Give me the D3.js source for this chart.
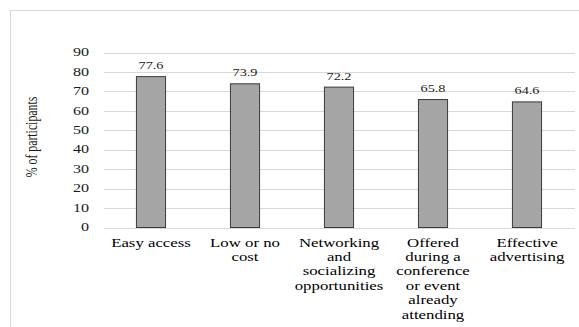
<!DOCTYPE html>
<html>
<head>
<meta charset="utf-8">
<script src="https://cdn.jsdelivr.net/npm/d3@7"></script>
<style>
  html, body { margin: 0; padding: 0; background: #fff; }
  svg { display: block; }
</style>
</head>
<body>
<svg id="chart" width="579" height="327"></svg>
<script>
// ---- data ----
const categories = [
  "Easy access",
  "Low or no\ncost",
  "Networking\nand\nsocializing\nopportunities",
  "Offered\nduring a\nconference\nor event\nalready\nattending",
  "Effective\nadvertising"
];
const values = [77.6, 73.9, 72.2, 65.8, 64.6];
const yTicks = [0, 10, 20, 30, 40, 50, 60, 70, 80, 90];
const yTitle = "% of participants";

// ---- layout ----
const plot = { left: 104, right: 574, top: 52.5, bottom: 227.5 };
const SX = 1.4; // horizontal stretch of text, as in the reference
const FONT = "Liberation Serif";

const svg = d3.select("#chart").style("font-family", FONT);

// outer border
svg.append("rect")
  .attr("x", 10.5).attr("y", 10.5)
  .attr("width", 620).attr("height", 400)
  .attr("fill", "none").attr("stroke", "#d9d9d9").attr("stroke-width", 1);

const x = d3.scaleBand()
  .domain(categories)
  .range([plot.left, plot.right])
  .paddingInner(0.69)
  .paddingOuter(0.345);

const y = d3.scaleLinear()
  .domain([0, 90])
  .range([plot.bottom, plot.top]);

// gridlines
svg.append("g").selectAll("line")
  .data(yTicks)
  .join("line")
  .attr("x1", plot.left).attr("x2", plot.right + 1)
  .attr("y1", d => Math.round(y(d)) + 0.5)
  .attr("y2", d => Math.round(y(d)) + 0.5)
  .attr("stroke", "#d9d9d9").attr("stroke-width", 1);

// y tick labels
svg.append("g").selectAll("text")
  .data(yTicks)
  .join("text")
  .style("font-family", FONT)
  .attr("transform", d => `translate(89,${y(d)}) scale(${SX},1)`)
  .attr("text-anchor", "end")
  .attr("dominant-baseline", "central")
  .attr("font-size", 11.5)
  .attr("fill", "#1a1a1a")
  .text(d => d);

// y axis title
svg.append("text")
  .style("font-family", FONT)
  .attr("transform", `translate(31,137) scale(${SX},1) rotate(-90)`)
  .attr("text-anchor", "middle")
  .attr("dominant-baseline", "central")
  .attr("font-size", 11.8)
  .attr("fill", "#1a1a1a")
  .text(yTitle);

// bars
svg.append("g").selectAll("rect")
  .data(values)
  .join("rect")
  .attr("x", (d, i) => x(categories[i]))
  .attr("y", d => y(d))
  .attr("width", x.bandwidth())
  .attr("height", d => y(0) - y(d))
  .attr("fill", "#a5a5a5")
  .attr("stroke", "#3a3a3a")
  .attr("stroke-width", 1);

// value labels
svg.append("g").selectAll("text")
  .data(values)
  .join("text")
  .style("font-family", FONT)
  .attr("transform", (d, i) => `translate(${x(categories[i]) + x.bandwidth() / 2},${y(d) - 7.5}) scale(1.3,1)`)
  .attr("text-anchor", "middle")
  .attr("font-size", 11)
  .attr("fill", "#1a1a1a")
  .text(d => d.toFixed(1));

// category labels
const catG = svg.append("g").selectAll("text")
  .data(categories)
  .join("text")
  .style("font-family", FONT)
  .attr("transform", d => `translate(${x(d) + x.bandwidth() / 2},246.5) scale(${SX},1)`)
  .attr("text-anchor", "middle")
  .attr("font-size", 12)
  .attr("fill", "#000");
catG.each(function(d) {
  const lines = d.split("\n");
  d3.select(this).selectAll("tspan")
    .data(lines)
    .join("tspan")
    .attr("x", 0)
    .attr("y", (l, i) => i * 14.5)
    .text(l => l);
});
</script>
</body>
</html>
